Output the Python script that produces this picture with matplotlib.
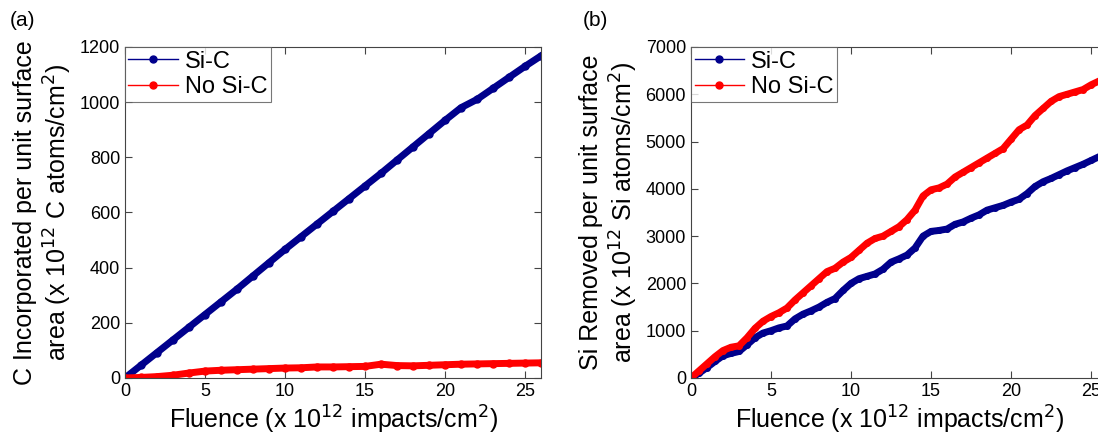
import numpy as np
import matplotlib.pyplot as plt
from matplotlib.lines import Line2D

plt.rcParams['font.family'] = ['Liberation Sans', 'DejaVu Sans']

# panel (a) data, fluence step 1
fl_a = list(range(0, 27))
c_sic = [0, 46, 92, 138, 184, 230, 276, 322, 370, 418, 466, 512, 558, 604, 650, 696,
         742, 790, 838, 886, 934, 980, 1010, 1050, 1090, 1130, 1168]
c_nosic = [0, 2, 5, 10, 18, 25, 28, 30, 32, 34, 36, 37, 40, 40, 41, 42,
           50, 45, 44, 46, 48, 50, 51, 52, 53, 54, 55]

# panel (b) data, fluence step 0.5
fl_b = [i * 0.5 for i in range(53)]
si_sic = [0, 100, 220, 350, 470, 520, 560, 700, 850, 950, 1000, 1060, 1100, 1250,
          1350, 1420, 1500, 1600, 1680, 1850, 2000, 2100, 2150, 2200, 2300, 2450,
          2520, 2600, 2750, 3000, 3100, 3120, 3150, 3250, 3300, 3380, 3450, 3550,
          3600, 3650, 3720, 3780, 3900, 4050, 4150, 4220, 4300, 4380, 4450, 4520,
          4600, 4680, 4720]
si_nosic = [0, 150, 300, 450, 580, 650, 680, 850, 1050, 1200, 1300, 1380, 1480, 1650,
            1800, 1950, 2100, 2250, 2320, 2450, 2550, 2700, 2850, 2950, 3000, 3100,
            3200, 3350, 3550, 3850, 3980, 4020, 4100, 4250, 4350, 4450, 4550, 4650,
            4750, 4850, 5050, 5250, 5350, 5550, 5700, 5850, 5950, 6000, 6050, 6100,
            6200, 6280, 6350]

blue = '#00008c'
red = '#ff0000'

fig = plt.figure(figsize=(10.98, 4.41), dpi=100)
ax1 = fig.add_axes([0.1138, 0.1429, 0.379, 0.7506])
ax2 = fig.add_axes([0.6293, 0.1429, 0.379, 0.7506])


def style(ax, ylim, yticks):
    ax.set_xlim(0, 26)
    ax.set_ylim(*ylim)
    ax.set_xticks([0, 5, 10, 15, 20, 25])
    ax.set_yticks(yticks)
    ax.tick_params(direction='in', top=True, right=True, labelsize=13, length=5,
                   color='#444444')
    for s in ax.spines.values():
        s.set_color('#444444')
    ax.set_xlabel('Fluence (x 10$^{12}$ impacts/cm$^{2}$)', fontsize=18, labelpad=3)
    handles = [Line2D([], [], color=blue, lw=1, marker='o', markersize=5),
               Line2D([], [], color=red, lw=1, marker='o', markersize=5)]
    leg = ax.legend(handles, ['Si-C', 'No Si-C'], loc='upper left', fontsize=17,
                    fancybox=False, borderaxespad=0, handlelength=2.1,
                    borderpad=0.15, labelspacing=0.15, handletextpad=0.3)
    leg.get_frame().set_edgecolor('#555555')
    leg.get_frame().set_linewidth(0.8)


ax1.plot(fl_a, c_sic, color=blue, lw=5, marker='o', markersize=5)
ax1.plot(fl_a, c_nosic, color=red, lw=5, marker='o', markersize=5)
style(ax1, (0, 1200), range(0, 1201, 200))
ax1.set_ylabel('C Incorporated per unit surface\narea (x 10$^{12}$ C atoms/cm$^{2}$)',
               fontsize=18, labelpad=4)

ax2.plot(fl_b, si_sic, color=blue, lw=5, marker='o', markersize=4)
ax2.plot(fl_b, si_nosic, color=red, lw=5, marker='o', markersize=4)
style(ax2, (0, 7000), range(0, 7001, 1000))
ax2.set_ylabel('Si Removed per unit surface\narea (x 10$^{12}$ Si atoms/cm$^{2}$)',
               fontsize=18, labelpad=4)

fig.text(0.009, 0.975, '(a)', fontsize=15, va='top')
fig.text(0.531, 0.975, '(b)', fontsize=15, va='top')

fig.savefig('out.png', dpi=100)
